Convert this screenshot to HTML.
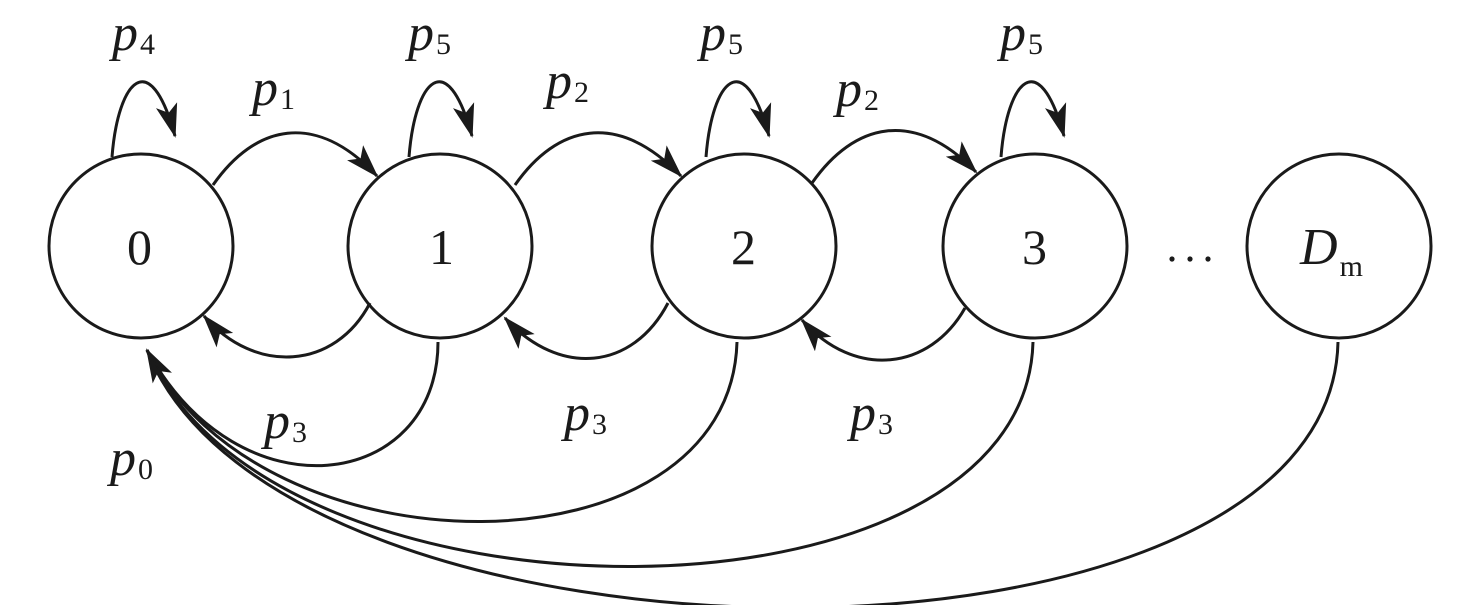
<!DOCTYPE html>
<html><head><style>
html,body{margin:0;padding:0;background:#fff;}
svg{display:block;}
text{font-family:"Liberation Serif",serif;fill:#1a1a1a;}
.l{font-style:italic;font-size:52px;}
.s{font-style:normal;font-size:30px;}
.n{font-size:50px;}
</style></head><body>
<svg width="1476" height="605" viewBox="0 0 1476 605" xmlns="http://www.w3.org/2000/svg">
<defs>
<marker id="b" viewBox="0 0 34 22" refX="32" refY="11" markerWidth="34" markerHeight="22" markerUnits="userSpaceOnUse" orient="auto">
<path d="M0,0 L34,11 L0,22 L8,11 Z" fill="#1a1a1a"/>
</marker>
</defs>
<g fill="none" stroke="#1a1a1a" stroke-width="3">
<circle cx="141" cy="246" r="92"/>
<circle cx="440" cy="246" r="92"/>
<circle cx="744" cy="246" r="92"/>
<circle cx="1035" cy="246" r="92"/>
<circle cx="1339" cy="246" r="92"/>
<path d="M112,157 C118,80 150,45 175,136" marker-end="url(#b)"/>
<path d="M409,157 C415,80 447,45 472,136" marker-end="url(#b)"/>
<path d="M706,157 C712,80 744,45 769,136" marker-end="url(#b)"/>
<path d="M1001,157 C1007,80 1039,45 1064,136" marker-end="url(#b)"/>
<path d="M213,185 C255,125 315,110 377,176" marker-end="url(#b)"/>
<path d="M515,185 C557,125 617,110 681,176" marker-end="url(#b)"/>
<path d="M812,183 C854,123 914,108 976,172" marker-end="url(#b)"/>
<path d="M370,303 C335,370 255,375 204,316" marker-end="url(#b)"/>
<path d="M668,303 C633,370 560,378 505,318" marker-end="url(#b)"/>
<path d="M965,308 C930,370 855,380 802,320" marker-end="url(#b)"/>
<path d="M438,342 C438,490 240,520 147,350" marker-end="url(#b)"/>
<path d="M737,342 C730,580 260,580 147,350"/>
<path d="M1033,342 C1025,640 270,640 147,350"/>
<path d="M1338,342 C1330,700 280,690 147,350"/>
</g>
<text class="n" x="127" y="264">0</text>
<text class="n" x="429" y="264">1</text>
<text class="n" x="731" y="264">2</text>
<text class="n" x="1022" y="264">3</text>
<text class="l" x="1300" y="264">D<tspan class="s" dx="2" dy="12">m</tspan></text>
<g fill="#1a1a1a"><circle cx="1172" cy="259" r="2.6"/><circle cx="1190" cy="259" r="2.6"/><circle cx="1208" cy="259" r="2.6"/></g>
<text class="l" x="112" y="50">p<tspan class="s" dx="2" dy="4">4</tspan></text>
<text class="l" x="408" y="50">p<tspan class="s" dx="2" dy="4">5</tspan></text>
<text class="l" x="700" y="50">p<tspan class="s" dx="2" dy="4">5</tspan></text>
<text class="l" x="1000" y="50">p<tspan class="s" dx="2" dy="4">5</tspan></text>
<text class="l" x="252" y="105">p<tspan class="s" dx="2" dy="4">1</tspan></text>
<text class="l" x="546" y="98">p<tspan class="s" dx="2" dy="4">2</tspan></text>
<text class="l" x="836" y="106">p<tspan class="s" dx="2" dy="4">2</tspan></text>
<text class="l" x="264" y="438">p<tspan class="s" dx="2" dy="4">3</tspan></text>
<text class="l" x="564" y="430">p<tspan class="s" dx="2" dy="4">3</tspan></text>
<text class="l" x="850" y="430">p<tspan class="s" dx="2" dy="4">3</tspan></text>
<text class="l" x="110" y="475">p<tspan class="s" dx="2" dy="4">0</tspan></text>
</svg>
</body></html>
